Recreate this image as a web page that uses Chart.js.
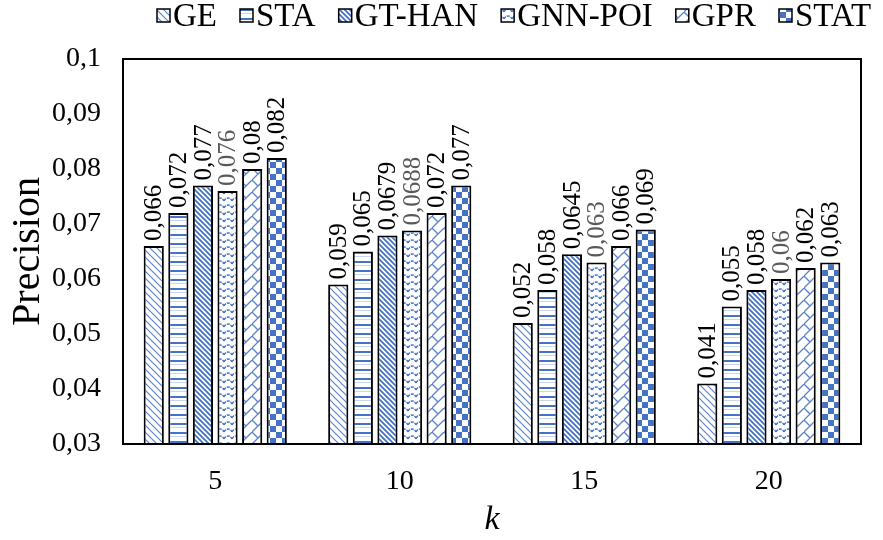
<!DOCTYPE html>
<html>
<head>
<meta charset="utf-8">
<script src="https://cdn.jsdelivr.net/npm/chart.js@4/dist/chart.umd.min.js"></script>
<style>
  html, body { margin: 0; padding: 0; background: #fff; }
  #wrap { width: 883px; height: 540px; position: relative; }
</style>
</head>
<body>
<div id="wrap"><canvas id="c" width="883" height="540"></canvas></div>
<script>
const categories = ['5', '10', '15', '20'];
const seriesNames = ['GE', 'STA', 'GT-HAN', 'GNN-POI', 'GPR', 'STAT'];
const geValues     = [0.066, 0.059, 0.052, 0.041];
const staValues    = [0.072, 0.065, 0.058, 0.055];
const gthanValues  = [0.077, 0.0679, 0.0645, 0.058];
const gnnpoiValues = [0.076, 0.0688, 0.063, 0.06];
const gprValues    = [0.08, 0.072, 0.066, 0.062];
const statValues   = [0.082, 0.077, 0.069, 0.063];
const yTicks = [0.03, 0.04, 0.05, 0.06, 0.07, 0.08, 0.09, 0.1];

const BLUE = '#4472C4';
const SERIF = '"Liberation Serif", "Times New Roman", serif';

function tile(w, h, draw) {
  const c = document.createElement('canvas');
  c.width = w; c.height = h;
  const g = c.getContext('2d');
  g.fillStyle = '#fff'; g.fillRect(0, 0, w, h);
  draw(g, w, h);
  return g.createPattern(c, 'repeat');
}
function diagDown(g, s, color, lw) {
  g.strokeStyle = color; g.lineWidth = lw; g.lineCap = 'square';
  g.beginPath();
  g.moveTo(-1, -1); g.lineTo(s + 1, s + 1);
  g.moveTo(s - 1, -1); g.lineTo(s + 1, 1);
  g.moveTo(-1, s - 1); g.lineTo(1, s + 1);
  g.stroke();
}
const patterns = [
  // GE: light downward diagonal
  tile(7, 7, (g, w) => diagDown(g, w, '#5B84CE', 1.2)),
  // STA: horizontal lines
  tile(4, 9, (g, w) => {
    g.fillStyle = BLUE; g.fillRect(0, 0, w, 2);
    g.fillStyle = '#C9D6EF'; g.fillRect(0, 4, w, 1);
  }),
  // GT-HAN: dark downward diagonal
  tile(5, 5, (g, w) => diagDown(g, w, BLUE, 1.8)),
  // GNN-POI: wave
  tile(8, 7, (g) => {
    g.strokeStyle = BLUE; g.lineWidth = 1.5;
    g.setLineDash([3, 1]);
    g.beginPath(); g.moveTo(0, 5); g.bezierCurveTo(2, 1, 6, 1, 8, 5); g.stroke();
  }),
  // GPR: zigzag trellis
  tile(12, 12, (g) => {
    g.strokeStyle = '#5A82CB'; g.lineWidth = 1.3;
    g.beginPath();
    g.moveTo(-1, 13); g.lineTo(13, -1);
    g.moveTo(0, 0); g.lineTo(6, 6);
    g.moveTo(11, -1); g.lineTo(13, 1);
    g.stroke();
  }),
  // STAT: large checkerboard
  tile(12, 12, (g) => {
    g.fillStyle = BLUE; g.fillRect(0, 0, 6, 6); g.fillRect(6, 6, 6, 6);
  })
];
const allValues = [geValues, staValues, gthanValues, gnnpoiValues, gprValues, statValues];
const labelColors = ['#000', '#000', '#000', '#595959', '#000', '#000'];

function fmt(v) { return String(v).replace('.', ','); }

const datasets = seriesNames.map((n, i) => ({
  label: n,
  data: allValues[i],
  backgroundColor: patterns[i],
  borderColor: '#000',
  borderWidth: 2,
  borderSkipped: false,
  barPercentage: 0.82,
  categoryPercentage: 0.8
}));

const PLOT = { left: 123, top: 59, right: 861, bottom: 444 };

const framePlugin = {
  id: 'frame',
  afterDatasetsDraw(chart) {
    const { ctx, chartArea: a } = chart;
    ctx.save();
    ctx.strokeStyle = '#000'; ctx.lineWidth = 2;
    ctx.strokeRect(a.left, a.top, a.right - a.left, a.bottom - a.top);
    // value labels
    ctx.font = '25px ' + SERIF;
    ctx.textAlign = 'left'; ctx.textBaseline = 'middle';
    chart.data.datasets.forEach((ds, di) => {
      const meta = chart.getDatasetMeta(di);
      meta.data.forEach((el, j) => {
        ctx.save();
        ctx.translate(el.x, el.y - 5);
        ctx.rotate(-Math.PI / 2);
        ctx.fillStyle = labelColors[di];
        ctx.fillText(fmt(ds.data[j]), 0, 1);
        ctx.restore();
      });
    });
    // axis titles
    ctx.fillStyle = '#000';
    ctx.save();
    ctx.font = '40px ' + SERIF;
    ctx.textAlign = 'center'; ctx.textBaseline = 'middle';
    ctx.translate(28, (a.top + a.bottom) / 2);
    ctx.rotate(-Math.PI / 2);
    ctx.fillText('Precision', 0, 0);
    ctx.restore();
    ctx.font = 'italic 34px ' + SERIF;
    ctx.textAlign = 'center'; ctx.textBaseline = 'middle';
    ctx.fillText('k', (a.left + a.right) / 2, 520);
    // legend
    ctx.font = '33px ' + SERIF;
    ctx.textBaseline = 'middle'; ctx.textAlign = 'left';
    let x = 157;
    chart.data.datasets.forEach((ds) => {
      ctx.fillStyle = ds.backgroundColor;
      ctx.fillRect(x, 9, 13, 13);
      ctx.strokeStyle = '#000'; ctx.lineWidth = 1.5;
      ctx.strokeRect(x, 9, 13, 13);
      ctx.fillStyle = '#000';
      ctx.fillText(ds.label, x + 16, 17);
      x += 16 + ctx.measureText(ds.label).width + 23;
    });
    ctx.restore();
  }
};

new Chart(document.getElementById('c'), {
  type: 'bar',
  data: { labels: categories, datasets },
  options: {
    responsive: false,
    animation: false,
    devicePixelRatio: 1,
    layout: { padding: { top: PLOT.top, right: 883 - PLOT.right, left: 0, bottom: 0 } },
    plugins: { legend: { display: false }, tooltip: { enabled: false } },
    scales: {
      x: {
        grid: { display: false, drawTicks: false },
        border: { display: false },
        ticks: { color: '#000', font: { family: SERIF, size: 28 }, padding: 21 },
        afterFit(s) { s.height = 540 - PLOT.bottom; }
      },
      y: {
        min: 0.03, max: 0.1,
        grid: { display: false, drawTicks: false },
        border: { display: false },
        afterBuildTicks(s) { s.ticks = yTicks.map(v => ({ value: v })); },
        ticks: {
          color: '#000', font: { family: SERIF, size: 28 }, padding: 22,
          callback: (v) => fmt(Math.round(v * 100) / 100)
        },
        afterFit(s) { s.width = PLOT.left; }
      }
    }
  },
  plugins: [framePlugin]
});
</script>
</body>
</html>
